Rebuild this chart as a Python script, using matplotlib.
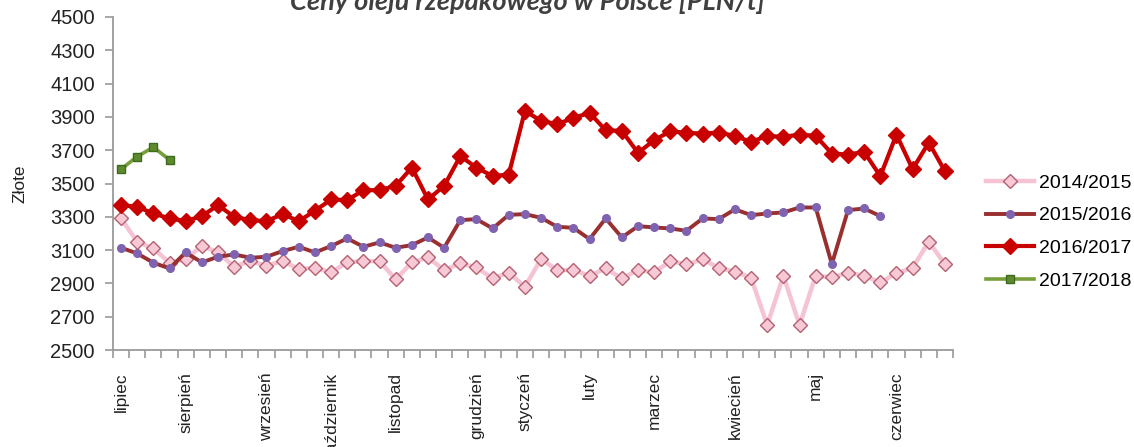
import matplotlib
matplotlib.use("Agg")
import matplotlib.pyplot as plt
from matplotlib.ticker import FixedLocator, NullFormatter

# weekly prices of rapeseed oil, PLN/t, season runs July -> June
y1415 = [3290, 3150, 3110, 3024, 3044, 3126, 3086, 3000, 3034, 3006, 3034, 2986, 2994,
         2966, 3026, 3034, 3034, 2924, 3026, 3056, 2980, 3020, 2996, 2930, 2964, 2880,
         3046, 2980, 2980, 2946, 2990, 2930, 2980, 2966, 3034, 3014, 3044, 2994, 2970,
         2934, 2650, 2946, 2650, 2946, 2936, 2964, 2946, 2906, 2960, 2994, 3150, 3016]
y1516 = [3114, 3080, 3024, 2990, 3086, 3026, 3060, 3074, 3054, 3060, 3094, 3120, 3086,
         3124, 3170, 3120, 3146, 3114, 3130, 3176, 3114, 3280, 3286, 3230, 3312, 3316,
         3294, 3240, 3234, 3166, 3290, 3176, 3244, 3236, 3230, 3216, 3290, 3286, 3345,
         3310, 3320, 3326, 3356, 3356, 3016, 3340, 3350, 3304]
y1617 = [3370, 3360, 3320, 3290, 3274, 3304, 3370, 3300, 3280, 3274, 3316, 3274, 3336,
         3404, 3400, 3460, 3460, 3486, 3596, 3404, 3486, 3664, 3596, 3544, 3554, 3936,
         3876, 3856, 3894, 3924, 3820, 3816, 3684, 3760, 3814, 3804, 3800, 3806, 3786,
         3750, 3786, 3780, 3794, 3786, 3680, 3674, 3690, 3544, 3794, 3586, 3746, 3574]
y1718 = [3586, 3662, 3718, 3642]

month_pos = [0, 4, 9, 13, 17, 22, 25, 29, 33, 38, 43, 48]
month_names = ["lipiec", "sierpień", "wrzesień", "październik", "listopad", "grudzień",
               "styczeń", "luty", "marzec", "kwiecień", "maj", "czerwiec"]
yticks = list(range(2500, 4501, 200))

plt.rcParams['font.family'] = ['Liberation Sans', 'DejaVu Sans']

fig = plt.figure(figsize=(11.34, 4.47), dpi=100)
ax = fig.add_axes([113/1134, 1 - 350/447, 840/1134, 333/447])

ax.plot(range(len(y1415)), y1415, color='#f5c3d3', lw=3.2, marker='D', ms=6.8,
        mfc='#f7c9d7', mec='#b5606f', mew=1.0, label='2014/2015', zorder=2)
ax.plot(range(len(y1516)), y1516, color='#9a2f2f', lw=2.8, marker='o', ms=5.5,
        mfc='#7f63b0', mec='#7f63b0', label='2015/2016', zorder=3)
ax.plot(range(len(y1617)), y1617, color='#c80000', lw=3.0, marker='D', ms=7.8,
        mfc='#c80000', mec='#c80000', label='2016/2017', zorder=4)
ax.plot(range(len(y1718)), y1718, color='#77a03a', lw=2.6, marker='s', ms=6,
        mfc='#5e8a2e', mec='#3d6a1e', mew=1.0, label='2017/2018', zorder=5)

ax.set_xlim(-0.5, 51.5)
ax.set_ylim(2500, 4500)
ax.set_yticks(yticks)
ax.tick_params(axis='y', direction='out', length=6, width=1.2, color='#9a9a9a',
               pad=7, labelsize=14.5, labelcolor='#222222')

ax.xaxis.set_major_locator(FixedLocator(month_pos))
ax.set_xticklabels(month_names, rotation=90, va='top', ha='center')
ax.tick_params(axis='x', which='major', length=0, pad=16, labelsize=12.5, labelcolor='#222222')
ax.xaxis.set_minor_locator(FixedLocator([i - 0.5 for i in range(53)]))
ax.xaxis.set_minor_formatter(NullFormatter())
ax.tick_params(axis='x', which='minor', direction='out', length=6, width=1.2, color='#9a9a9a')

for s in ['top', 'right']:
    ax.spines[s].set_visible(False)
for s in ['left', 'bottom']:
    ax.spines[s].set_color('#9a9a9a')
    ax.spines[s].set_linewidth(1.3)

ax.set_ylabel('Złote', fontsize=12.5, color='#222222', labelpad=16)

leg = ax.legend(loc='center left', frameon=False, fontsize=14, handlelength=2.45,
                handletextpad=0.25, labelspacing=0.78, borderpad=0, borderaxespad=0)
leg.set_bbox_to_anchor((986/1134, 1 - 232/447), transform=fig.transFigure)

fig.text(527/1134, 1 - 10/447, 'Ceny oleju rzepakowego w Polsce [PLN/t]',
         family='Lato', weight='bold', style='italic', fontsize=19.5,
         color='#404040', ha='center', va='baseline')

fig.savefig('out.png', dpi=100)
